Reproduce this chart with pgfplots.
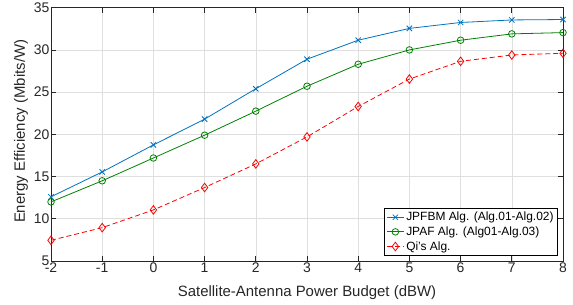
\documentclass[border=0pt]{standalone}
\usepackage{pgfplots}
\pgfplotsset{compat=1.18}
\usepackage{fontspec}
\setmainfont{Liberation Sans}
\definecolor{mblue}{rgb}{0,0.447,0.741}
\definecolor{mgreen}{rgb}{0,0.5,0}
\definecolor{mred}{rgb}{1,0,0}
\definecolor{axgray}{rgb}{0.15,0.15,0.15}
\begin{document}
\begin{tikzpicture}
\path[use as bounding box] (-51bp,-44bp) rectangle (522bp,261bp);
\begin{axis}[
  at={(0,0)}, anchor=south west,
  scale only axis, width=512bp, height=253.3bp,
  xmin=-2, xmax=8, ymin=5, ymax=35,
  xtick={-2,...,8}, ytick={5,10,...,35},
  tick align=inside, tick pos=both,
  major tick length=5bp,
  grid=major, grid style={gray!25, line width=0.6pt},
  axis line style={axgray, line width=0.7pt},
  tick style={axgray, line width=0.7pt},
  every tick label/.append style={font=\fontsize{14}{16}\selectfont, text=axgray},
  xticklabel style={inner sep=2pt},
  yticklabel style={inner sep=1.5pt},
  /pgf/number format/assume math mode=true,
  xlabel={Satellite-Antenna Power Budget (dBW)},
  ylabel={Energy Efficiency (Mbits/W)},
  label style={font=\fontsize{15}{17}\selectfont, text=axgray},
  xlabel style={at={(axis description cs:0.5,0)}, anchor=center, yshift=-32bp},
  ylabel style={at={(axis description cs:0,0.5)}, anchor=center, yshift=30bp, xshift=3bp},
  legend style={at={(0.99,0.02)}, anchor=south east, font=\fontsize{12}{14}\selectfont,
    draw=black, line width=0.7pt, inner sep=2pt, row sep=0.5pt, cells={anchor=west}},
  legend image post style={line width=0.8pt},
]
\addplot[mblue, line width=0.8pt, mark=x, mark size=3.8pt, mark options={solid}] coordinates {
(-2,12.6) (-1,15.55) (0,18.75) (1,21.8) (2,25.4) (3,28.9) (4,31.15) (5,32.55) (6,33.25) (7,33.55) (8,33.6)};
\addlegendentry{JPFBM Alg. (Alg.01-Alg.02)}
\addplot[mgreen, line width=0.8pt, mark=o, mark size=3.3pt, mark options={solid}] coordinates {
(-2,12.0) (-1,14.5) (0,17.2) (1,19.9) (2,22.75) (3,25.7) (4,28.3) (5,30.0) (6,31.15) (7,31.9) (8,32.05)};
\addlegendentry{JPAF Alg. (Alg01-Alg.03)}
\addplot[mred, line width=0.8pt, dashed, dash pattern=on 5pt off 3pt, mark=diamond, mark size=4.3pt, mark options={solid}] coordinates {
(-2,7.45) (-1,8.95) (0,11.05) (1,13.7) (2,16.5) (3,19.7) (4,23.3) (5,26.55) (6,28.65) (7,29.4) (8,29.6)};
\addlegendentry{Qi's Alg.}
\end{axis}
\end{tikzpicture}
\end{document}
